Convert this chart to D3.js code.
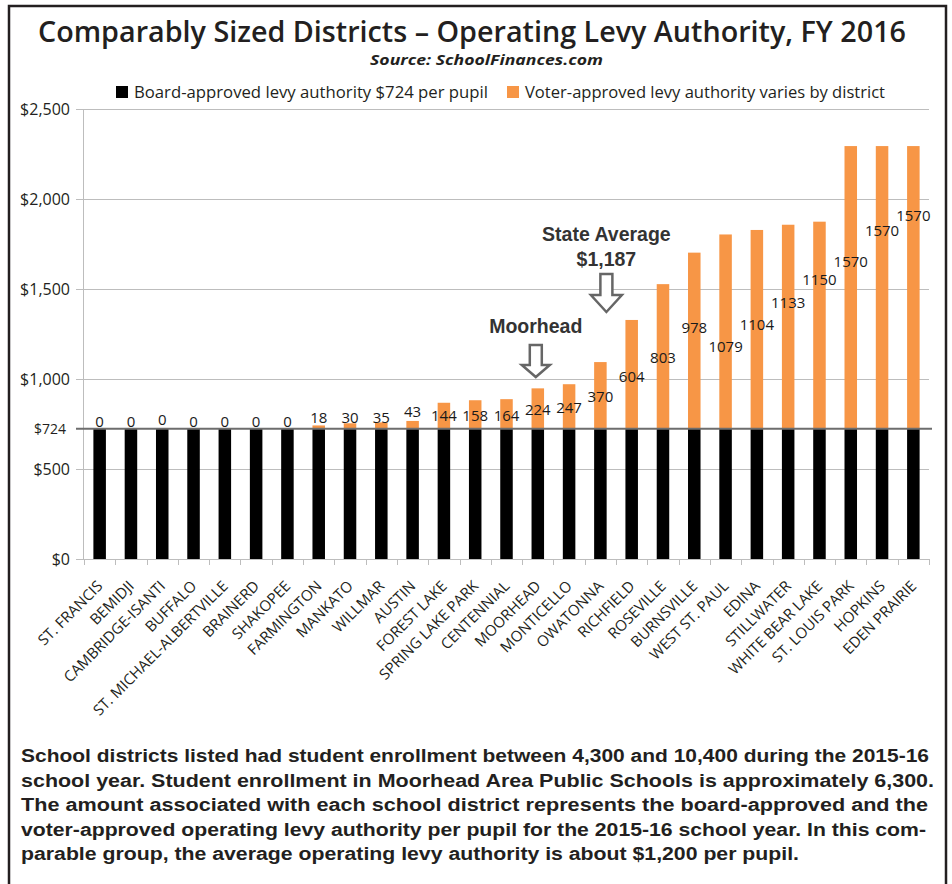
<!DOCTYPE html>
<html>
<head>
<meta charset="utf-8">
<script src="https://d3js.org/d3.v7.min.js"></script>
<style>
    body { margin: 0; background: #fff; }
    #chart-area { width: 952px; height: 884px; }
    text { font-family: "Open Sans", sans-serif; }
</style>
</head>
<body>
<div id="chart-area"></div>
<script>

// districts, sorted by voter-approved levy
let districts = ["ST. FRANCIS", "BEMIDJI", "CAMBRIDGE-ISANTI", "BUFFALO", "ST. MICHAEL-ALBERTVILLE",
    "BRAINERD", "SHAKOPEE", "FARMINGTON", "MANKATO", "WILLMAR", "AUSTIN", "FOREST LAKE",
    "SPRING LAKE PARK", "CENTENNIAL", "MOORHEAD", "MONTICELLO", "OWATONNA", "RICHFIELD",
    "ROSEVILLE", "BURNSVILLE", "WEST ST. PAUL", "EDINA", "STILLWATER", "WHITE BEAR LAKE",
    "ST. LOUIS PARK", "HOPKINS", "EDEN PRAIRIE"];

// board-approved part is the same for everyone
let boardLevy = 724;

// voter-approved levy per pupil
let voterLevy = [0, 0, 0, 0, 0, 0, 0, 18, 30, 35, 43, 144, 158, 164, 224, 247, 370, 604,
    803, 978, 1079, 1104, 1133, 1150, 1570, 1570, 1570];

// dollar value at which each value label was placed in the original
let labelAt = [763, 763, 772, 763, 763, 763, 763, 783, 783, 783, 817, 797, 797, 797, 828, 841,
    902, 1011, 1117, 1283, 1178, 1300, 1422, 1550, 1650, 1822, 1906];

let yTicks = [0, 500, 1000, 1500, 2000, 2500];

let stateAverage = 1187;

let legendLabels = ["Board-approved levy authority $724 per pupil",
    "Voter-approved levy authority varies by district"];

let footerLines = [
    "School districts listed had student enrollment between 4,300 and 10,400 during the 2015-16",
    "school year. Student enrollment in Moorhead Area Public Schools is approximately 6,300.",
    "The amount associated with each school district represents the board-approved and the",
    "voter-approved operating levy authority per pupil for the 2015-16 school year. In this com-",
    "parable group, the average operating levy authority is about $1,200 per pupil."
];


class LevyChart {

    constructor(parentElement) {
        this.parentElement = parentElement;
        this.colors = {board: "#000000", voter: "#F79646", grid: "#bdbdbd", text: "#231f20"};
        this.initVis();
    }

    initVis() {
        let vis = this;

        vis.width = 952;
        vis.height = 884;
        vis.plot = {left: 83, right: 929, top: 109, bottom: 559};

        vis.svg = d3.select("#" + vis.parentElement).append("svg")
            .attr("width", vis.width)
            .attr("height", vis.height);

        // outer frame (open at the bottom, runs off the page)
        vis.svg.append("rect")
            .attr("x", 9).attr("y", 6)
            .attr("width", 937).attr("height", 920)
            .attr("fill", "none")
            .attr("stroke", vis.colors.text)
            .attr("stroke-width", 2.5);

        // title + source
        vis.svg.append("text")
            .attr("x", 38).attr("y", 42)
            .attr("textLength", 868).attr("lengthAdjust", "spacingAndGlyphs")
            .style("font-size", "28px").style("font-weight", 600)
            .attr("fill", vis.colors.text)
            .text("Comparably Sized Districts \u2013 Operating Levy Authority, FY 2016");

        vis.svg.append("text")
            .attr("x", 370).attr("y", 65)
            .attr("textLength", 233).attr("lengthAdjust", "spacingAndGlyphs")
            .style("font-size", "14.5px").style("font-weight", 700).style("font-style", "italic")
            .attr("fill", vis.colors.text)
            .text("Source: SchoolFinances.com");

        vis.x = d3.scaleBand()
            .domain(districts)
            .range([vis.plot.left + 1, vis.plot.right])
            .paddingInner(0.6)
            .paddingOuter(0.3);

        vis.y = d3.scaleLinear()
            .domain([0, 2500])
            .range([vis.plot.bottom, vis.plot.top]);

        vis.wrangleData();
    }

    wrangleData() {
        let vis = this;

        vis.displayData = districts.map((d, i) => ({
            district: d,
            board: boardLevy,
            voter: voterLevy[i],
            labelAt: labelAt[i]
        }));

        vis.updateVis();
    }

    updateVis() {
        let vis = this;

        // gridlines + y labels
        let grid = vis.svg.append("g").attr("class", "grid");
        grid.selectAll("line")
            .data(yTicks)
            .enter().append("line")
            .attr("x1", vis.plot.left - 7)
            .attr("x2", vis.plot.right)
            .attr("y1", d => vis.y(d) + 0.5)
            .attr("y2", d => vis.y(d) + 0.5)
            .attr("stroke", vis.colors.grid)
            .attr("stroke-width", 1);

        grid.selectAll("text")
            .data(yTicks)
            .enter().append("text")
            .attr("x", 70)
            .attr("y", d => vis.y(d))
            .attr("dy", "0.36em")
            .attr("text-anchor", "end")
            .style("font-size", "16px")
            .attr("fill", vis.colors.text)
            .text(d => d3.format("$,")(d));

        // y axis line
        vis.svg.append("line")
            .attr("x1", vis.plot.left + 0.5).attr("x2", vis.plot.left + 0.5)
            .attr("y1", vis.plot.top).attr("y2", vis.plot.bottom)
            .attr("stroke", vis.colors.grid);

        // x axis ticks between categories
        let step = vis.x.step();
        let bounds = districts.map(d => vis.x(d) - vis.x.paddingInner() * step / 2);
        bounds.push(vis.plot.right);
        vis.svg.selectAll(".xtick")
            .data(bounds)
            .enter().append("line")
            .attr("class", "xtick")
            .attr("x1", d => Math.round(d) + 0.5).attr("x2", d => Math.round(d) + 0.5)
            .attr("y1", vis.plot.bottom).attr("y2", vis.plot.bottom + 6)
            .attr("stroke", vis.colors.grid);

        // stacked bars
        let bars = vis.svg.append("g").attr("class", "bars");
        bars.selectAll(".bar-board")
            .data(vis.displayData)
            .enter().append("rect")
            .attr("class", "bar-board")
            .attr("x", d => vis.x(d.district))
            .attr("width", vis.x.bandwidth())
            .attr("y", d => vis.y(d.board))
            .attr("height", d => vis.y(0) - vis.y(d.board))
            .attr("fill", vis.colors.board);

        bars.selectAll(".bar-voter")
            .data(vis.displayData.filter(d => d.voter > 0))
            .enter().append("rect")
            .attr("class", "bar-voter")
            .attr("x", d => vis.x(d.district))
            .attr("width", vis.x.bandwidth())
            .attr("y", d => vis.y(d.board + d.voter))
            .attr("height", d => vis.y(d.board) - vis.y(d.board + d.voter))
            .attr("fill", vis.colors.voter);

        // $724 reference line
        vis.svg.append("line")
            .attr("x1", vis.plot.left - 7).attr("x2", vis.plot.right + 3)
            .attr("y1", vis.y(boardLevy)).attr("y2", vis.y(boardLevy))
            .attr("stroke", "#6d6d6d")
            .attr("stroke-width", 2);

        vis.svg.append("text")
            .attr("x", 66)
            .attr("y", vis.y(boardLevy))
            .attr("dy", "0.36em")
            .attr("text-anchor", "end")
            .style("font-size", "14px")
            .attr("fill", vis.colors.text)
            .text(d3.format("$,")(boardLevy));

        // value labels
        vis.svg.append("g").selectAll("text")
            .data(vis.displayData)
            .enter().append("text")
            .attr("x", d => vis.x(d.district) + vis.x.bandwidth() / 2)
            .attr("y", d => vis.y(d.labelAt))
            .attr("dy", "0.36em")
            .attr("text-anchor", "middle")
            .style("font-size", "15px")
            .attr("fill", "#1a1a1a")
            .text(d => d.voter);

        // category labels
        vis.svg.append("g").selectAll("text")
            .data(districts)
            .enter().append("text")
            .attr("transform", d => `translate(${vis.x(d) + vis.x.bandwidth() / 2 + 4}, ${vis.plot.bottom + 28}) rotate(-45)`)
            .attr("text-anchor", "end")
            .style("font-size", "15px")
            .attr("fill", vis.colors.text)
            .text(d => d);

        vis.drawLegend();
        vis.drawAnnotations();
        vis.drawFooter();
    }

    drawLegend() {
        let vis = this;

        let items = [
            {label: legendLabels[0], color: vis.colors.board, x: 116, len: 354},
            {label: legendLabels[1], color: vis.colors.voter, x: 507, len: 360}
        ];

        let legend = vis.svg.append("g").attr("class", "legend");
        legend.selectAll("rect")
            .data(items)
            .enter().append("rect")
            .attr("x", d => d.x).attr("y", 86)
            .attr("width", 12).attr("height", 12)
            .attr("fill", d => d.color);

        legend.selectAll("text")
            .data(items)
            .enter().append("text")
            .attr("x", d => d.x + 18).attr("y", 98)
            .attr("textLength", d => d.len).attr("lengthAdjust", "spacingAndGlyphs")
            .style("font-size", "16px")
            .attr("fill", vis.colors.text)
            .text(d => d.label);
    }

    drawAnnotations() {
        let vis = this;

        // hollow down arrow
        let arrow = (cx, top, neck, tip, shaft, head) => {
            let p = d3.path();
            p.moveTo(cx - shaft, top);
            p.lineTo(cx + shaft, top);
            p.lineTo(cx + shaft, neck);
            p.lineTo(cx + head, neck);
            p.lineTo(cx, tip);
            p.lineTo(cx - head, neck);
            p.lineTo(cx - shaft, neck);
            p.closePath();
            return p.toString();
        };

        let note = vis.svg.append("g").attr("class", "annotations")
            .style("font-weight", 700)
            .style("font-size", "19.5px")
            .attr("fill", "#333333");

        // Moorhead
        let mx = vis.x("MOORHEAD") + vis.x.bandwidth() / 2 - 2;
        note.append("text")
            .attr("x", mx).attr("y", 333)
            .attr("text-anchor", "middle")
            .style("font-family", "'Liberation Sans', Arial, sans-serif")
            .text("Moorhead");
        note.append("path")
            .attr("d", arrow(mx, 345, 365, 377, 6, 14))
            .attr("fill", "#fff")
            .attr("stroke", "#666")
            .attr("stroke-width", 2.5);

        // State average
        let sx = vis.x("OWATONNA") + vis.x.bandwidth() / 2 + 6;
        note.append("text")
            .attr("x", sx).attr("y", 241)
            .attr("text-anchor", "middle")
            .style("font-family", "'Liberation Sans', Arial, sans-serif")
            .text("State Average");
        note.append("text")
            .attr("x", sx).attr("y", 266)
            .attr("text-anchor", "middle")
            .style("font-family", "'Liberation Sans', Arial, sans-serif")
            .text(d3.format("$,")(stateAverage));
        note.append("path")
            .attr("d", arrow(sx, 274, 295, 312, 6, 15.5))
            .attr("fill", "#fff")
            .attr("stroke", "#666")
            .attr("stroke-width", 2.5);
    }

    drawFooter() {
        let vis = this;

        let widths = [908, 913, 907, 905, 778];

        vis.svg.append("g").attr("class", "footer")
            .selectAll("text")
            .data(footerLines)
            .enter().append("text")
            .attr("x", 21)
            .attr("y", (d, i) => 762 + i * 24.6)
            .attr("textLength", (d, i) => widths[i])
            .attr("lengthAdjust", "spacingAndGlyphs")
            .style("font-family", "'Liberation Sans', Arial, sans-serif")
            .style("font-weight", 700)
            .style("font-size", "18px")
            .attr("fill", vis.colors.text)
            .text(d => d);
    }
}

new LevyChart("chart-area");

</script>
</body>
</html>
